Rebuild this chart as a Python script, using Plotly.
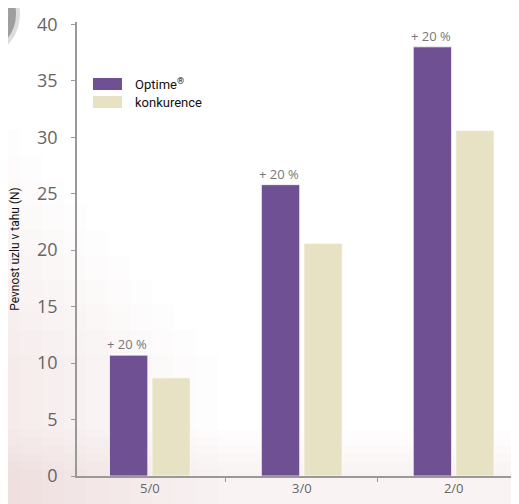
import plotly.graph_objects as go

categories = ["5/0", "3/0", "2/0"]
optime = [10.7, 25.8, 38.0]
konkurence = [8.7, 20.6, 30.6]
labels = ["+ 20 %", "+ 20 %", "+ 20 %"]
series_names = ["Optime<sup>®</sup>", "konkurence"]

PURPLE = "#6f5193"
BEIGE = "#e8e2c5"

# the page body has an 8px margin; plot area aimed at x 77..519, y 22..476 on screen
OFF = 8
W, H = 519, 504
L, T, B, R = 77 - OFF, 22 - OFF, 504 - 476 + OFF, OFF
PW, PH = W - L - R, H - T - B


def px(x):  # screen x -> paper
    return (x - OFF - L) / PW


def py(y):  # screen y -> paper
    return 1 - (y - OFF - T) / PH


fig = go.Figure()
fig.add_trace(go.Bar(x=categories, y=optime, name="Optime®",
                     marker=dict(color=PURPLE, line=dict(width=1, color="rgba(255,255,255,0.7)"))))
fig.add_trace(go.Bar(x=categories, y=konkurence, name="konkurence",
                     marker=dict(color=BEIGE, line=dict(width=1, color="rgba(255,255,255,0.7)"))))

for c, v, t in zip(categories, optime, labels):
    fig.add_annotation(x=c, y=v, text=t, showarrow=False, xshift=-23, yshift=11,
                       font=dict(family="Open Sans", size=13, color="#777"))

shapes = []
# soft pink background tint on the left and bottom
n = 10
for i in range(n):
    shapes.append(dict(type="rect", xref="paper", yref="paper",
                       x0=px(-10), x1=px(20 + 22 * i), y0=py(520), y1=py(130 + 25 * i),
                       fillcolor="#e9bccd", opacity=0.03, line=dict(width=0), layer="below"))
for i in range(6):
    shapes.append(dict(type="rect", xref="paper", yref="paper",
                       x0=px(-10), x1=px(530), y0=py(520), y1=py(470 - 8 * i),
                       fillcolor="#e9bccd", opacity=0.03, line=dict(width=0), layer="below"))
# dark corner at top-left
shapes.append(dict(type="circle", xref="paper", yref="paper",
                   x0=px(-40), x1=px(16), y0=py(48), y1=py(-20),
                   fillcolor="#6a6a6a", opacity=0.6, line=dict(width=0), layer="above"))
shapes.append(dict(type="circle", xref="paper", yref="paper",
                   x0=px(-40), x1=px(20), y0=py(52), y1=py(-24),
                   fillcolor="#8a8a8a", opacity=0.3, line=dict(width=0), layer="above"))

# legend drawn as wide swatches
legend_y = [84, 102]
legend_colors = [PURPLE, BEIGE]
for yc, col, name in zip(legend_y, legend_colors, series_names):
    shapes.append(dict(type="rect", xref="paper", yref="paper",
                       x0=px(93), x1=px(122), y0=py(yc + 6), y1=py(yc - 6),
                       fillcolor=col, line=dict(width=0)))
    fig.add_annotation(xref="paper", yref="paper", x=px(133), y=py(yc),
                       xanchor="left", yanchor="middle", text=name, showarrow=False,
                       font=dict(family="Roboto", size=13, color="#111"))

fig.update_layout(
    width=W, height=H,
    margin=dict(l=L, r=R, t=T, b=B, autoexpand=False),
    paper_bgcolor="white",
    plot_bgcolor="rgba(0,0,0,0)",
    barmode="group", bargap=0.44, bargroupgap=0.1,
    showlegend=False,
    shapes=shapes,
    font=dict(family="Open Sans", color="#555"),
)
fig.update_xaxes(range=[-0.48, 2.43], showline=True, linecolor="#999", linewidth=1.5,
                 ticks="outside", tickson="boundaries", ticklen=4, tickcolor="#999",
                 tickfont=dict(family="Open Sans", size=13, color="#666"),
                 showgrid=False, zeroline=False)
fig.update_yaxes(range=[0, 40.2], tickvals=[0, 5, 10, 15, 20, 25, 30, 35, 40],
                 showline=True, linecolor="#999", linewidth=1.5,
                 ticks="outside", ticklen=4, tickcolor="#999",
                 ticklabelstandoff=10,
                 tickfont=dict(family="Open Sans", size=18, color="#666"),
                 showgrid=False, zeroline=False,
                 title=dict(text="Pevnost uzlu v tahu (N)", standoff=18,
                            font=dict(family="Roboto", size=12, color="#111")))

fig.write_html("out.html")
